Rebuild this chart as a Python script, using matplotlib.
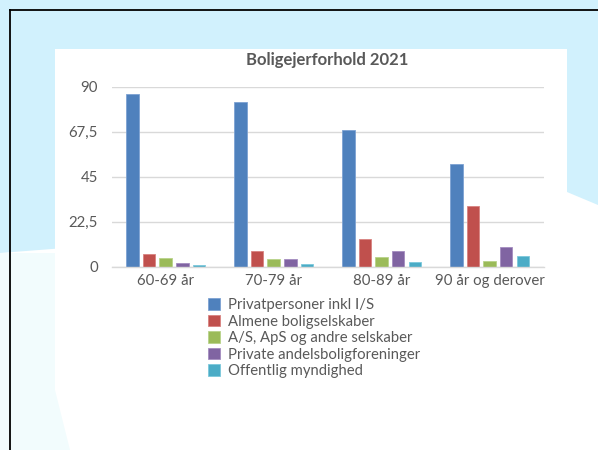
import matplotlib
matplotlib.use("Agg")
import matplotlib.pyplot as plt
import numpy as np
from matplotlib.patches import Rectangle, Polygon
from matplotlib.lines import Line2D

categories = ["60-69 år", "70-79 år", "80-89 år", "90 år og derover"]
series_names = ["Privatpersoner inkl I/S", "Almene boligselskaber",
                "A/S, ApS og andre selskaber", "Private andelsboligforeninger",
                "Offentlig myndighed"]
privat = [86.2, 82.2, 68.5, 51.3]
almene = [6.2, 7.8, 13.8, 30.3]
selskaber = [4.2, 3.7, 4.7, 3.0]
andel = [1.7, 3.7, 7.8, 9.8]
offentlig = [0.7, 1.2, 2.2, 5.2]
yticks = [0, 22.5, 45, 67.5, 90]
ytick_labels = ["0", "22,5", "45", "67,5", "90"]

colors = ["#4F81BD", "#C0504D", "#9BBB59", "#8064A2", "#4BACC6"]
edges = ["#7DA2D3", "#D88380", "#B8D38A", "#A48DC0", "#7CC8DC"]
text_col = "#595959"

plt.rcParams['font.family'] = ['Lato', 'DejaVu Sans']

W, H = 598, 450
fig = plt.figure(figsize=(W / 100, H / 100), dpi=100)
fig.patch.set_facecolor("white")


def px(x, y):
    # pixel coords (from top-left) -> figure fraction
    return (x / W, 1 - y / H)


# slide background
fig.patches.append(Polygon([px(0, 0), px(598, 0), px(598, 205), px(567, 192),
                            px(300, 230), px(0, 253)],
                           closed=True, transform=fig.transFigure,
                           facecolor="#D1F1FD", edgecolor="none", zorder=-3))
fig.patches.append(Polygon([px(0, 253), px(55, 253), px(55, 390), px(70, 450),
                            px(0, 450)],
                           closed=True, transform=fig.transFigure,
                           facecolor="#F2FCFD", edgecolor="none", zorder=-3))
# white chart panel
fig.patches.append(Rectangle(px(55, 390), 512 / W, 341 / H,
                             transform=fig.transFigure, facecolor="white",
                             edgecolor="none", zorder=-2))
# frame lines
fig.lines.append(Line2D([10 / W, 1], [1 - 9.5 / H, 1 - 9.5 / H],
                        transform=fig.transFigure, color="black", lw=1.3))
fig.lines.append(Line2D([10 / W, 10 / W], [0, 1 - 9.5 / H],
                        transform=fig.transFigure, color="black", lw=1.3))

ax = fig.add_axes([111.7 / W, 1 - 266.7 / H, 431.8 / W, 180 / H])
ax.set_facecolor("none")
ax.set_zorder(2)

data = [privat, almene, selskaber, andel, offentlig]
x = np.arange(len(categories))
step = 0.154
width = 0.116
for i, vals in enumerate(data):
    ax.bar(x + (i - 2) * step, vals, width, color=colors[i],
           edgecolor=edges[i], linewidth=0.6, label=series_names[i], zorder=3)

ax.set_xlim(-0.5, 3.5)
ax.set_ylim(0, 90)
ax.set_yticks(yticks)
ax.set_yticklabels(ytick_labels)
ax.set_xticks(x)
ax.set_xticklabels(categories)
ax.tick_params(length=0, labelsize=10.8, colors=text_col)
ax.tick_params(axis="y", pad=10)
ax.tick_params(axis="x", pad=5)
ax.grid(axis="y", color="#D9D9D9", lw=1, zorder=0)
for s in ["top", "right", "left"]:
    ax.spines[s].set_visible(False)
ax.spines["bottom"].set_color("#D9D9D9")
ax.spines["bottom"].set_linewidth(1)
ax.spines["bottom"].set_zorder(4)

fig.text(327 / W, 1 - 60 / H, "Boligejerforhold 2021", ha="center",
         va="center", fontsize=12, fontweight="bold", color="#595959",
         zorder=3)

leg = ax.legend(loc="upper left", bbox_to_anchor=px(208, 298),
                bbox_transform=fig.transFigure, frameon=False, fontsize=10.7,
                handlelength=0.82, handleheight=0.82, handletextpad=0.55,
                labelspacing=0.17, borderpad=0, borderaxespad=0)
for t in leg.get_texts():
    t.set_color(text_col)

fig.savefig("out.png", dpi=100)
